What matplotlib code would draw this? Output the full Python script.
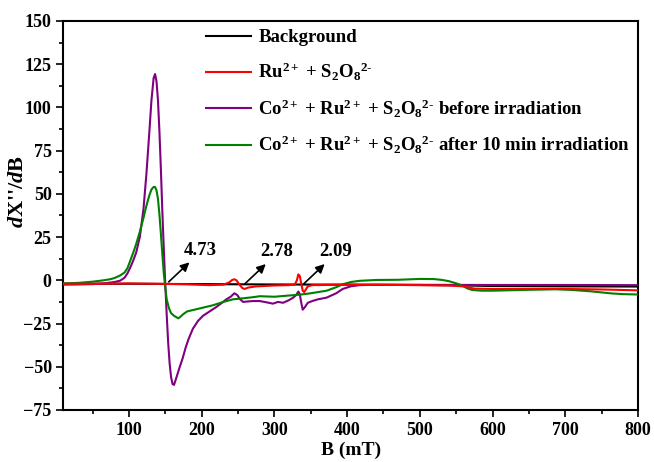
import numpy as np
import matplotlib
matplotlib.use("Agg")
import matplotlib.pyplot as plt
import matplotlib.ticker as ticker

plt.rcParams["font.family"] = "serif"
plt.rcParams["font.serif"] = ["Liberation Serif", "DejaVu Serif"]
plt.rcParams["font.weight"] = "bold"
plt.rcParams["axes.labelweight"] = "bold"
plt.rcParams["mathtext.fontset"] = "custom"
plt.rcParams["mathtext.rm"] = "Liberation Serif:bold"
plt.rcParams["mathtext.it"] = "Liberation Serif:bold:italic"
plt.rcParams["mathtext.bf"] = "Liberation Serif:bold"

# EPR spectra (B in mT)
bg_x = [10, 100, 200, 300, 400, 500, 550, 600, 700, 800]
bg_y = [-2.0, -2.0, -2.2, -2.4, -2.5, -2.7, -2.9, -3.3, -3.5, -3.6]

ru_x = [10, 50, 100, 140, 180, 210, 230, 238, 242, 245, 248, 252, 256, 259, 264, 275,
        300, 320, 328, 331, 333, 335, 337, 339, 341, 343, 346, 352, 400, 450, 500,
        540, 560, 575, 600, 650, 700, 750, 800]
ru_y = [-2.0, -2.0, -1.8, -2.0, -2.3, -2.8, -2.5, -1.2, 0.2, 0.6, 0.0, -2.5, -4.5, -5.0,
        -4.2, -3.5, -3.0, -2.8, -2.5, 0.0, 3.4, 2.5, -2.0, -6.0, -6.8, -5.5, -3.5, -2.8,
        -2.5, -2.6, -2.8, -3.0, -3.5, -4.8, -5.0, -5.0, -5.0, -5.3, -5.8]

before_x = [10, 30, 50, 65, 80, 88, 94, 98, 102, 106, 110, 115, 120, 124, 128, 131, 134,
            136, 138, 140, 142, 144, 146, 148, 150, 152, 154, 156, 158, 160, 162, 164,
            167, 170, 174, 178, 182, 188, 195, 202, 211, 220, 228, 234, 240, 245, 249,
            253, 257, 262, 270, 280, 290, 298, 305, 312, 320, 326, 330, 333, 335, 337,
            339, 342, 346, 352, 360, 372, 385, 394, 405, 417, 440, 500, 600, 700, 800]
before_y = [-2.5, -2.4, -2.2, -1.8, -1.0, -0.2, 1.5, 4.0, 7.5, 11.5, 16, 25, 41, 61, 85,
            104, 117, 119.3, 115, 104, 86, 64, 40, 18, -2, -20, -36, -48, -56, -60,
            -60.5, -58, -54, -50, -45, -39, -34, -28, -23.5, -20.5, -18, -15.5, -13, -11,
            -9.5, -7.5, -8.5, -11, -12.5, -12.3, -12, -12, -12.8, -13.5, -12.5, -13,
            -11.5, -10, -8.5, -6.5, -8, -13, -17, -15.5, -13, -12, -11, -10, -7.5, -5,
            -3.5, -2.8, -2.6, -2.6, -2.7, -2.7, -2.8]

after_x = [10, 30, 50, 65, 74, 80, 88, 94, 98, 102, 106, 110, 115, 120, 124, 128, 131,
           134, 136, 138, 140, 142, 144, 146, 148, 150, 152, 155, 158, 162, 166, 168,
           171, 175, 180, 190, 200, 215, 230, 243, 255, 270, 280, 300, 320, 335, 350,
           372, 385, 394, 405, 417, 440, 470, 500, 520, 531, 540, 548, 554, 560, 566,
           572, 585, 600, 620, 650, 687, 710, 733, 750, 764, 780, 800]
after_y = [-1.8, -1.5, -0.8, 0.0, 0.6, 1.3, 2.8, 4.5, 7.0, 11.5, 16, 21, 28, 36, 43, 49,
           52.5, 54, 54, 52, 47, 38, 27, 15, 4, -4, -11, -16, -19, -20.5, -21.5, -22,
           -21, -19.5, -18, -17, -16, -14.5, -12.5, -11, -10.5, -9.8, -9.2, -9.5, -8.8,
           -8.3, -7.5, -6, -4, -2.3, -1, -0.3, 0.2, 0.3, 0.8, 0.7, 0.2, -0.5, -1.5, -2.3,
           -3.5, -4.8, -5.6, -6, -6, -5.8, -5.5, -5.2, -5.6, -6.3, -7, -7.6, -8, -8.2]

labels = ["Background",
          r"Ru$^{2+}$ + S$_2$O$_8$$^{2\text{-}}$",
          r"Co$^{2+}$ + Ru$^{2+}$ + S$_2$O$_8$$^{2\text{-}}$ before irradiation",
          r"Co$^{2+}$ + Ru$^{2+}$ + S$_2$O$_8$$^{2\text{-}}$ after 10 min irradiation"]
colors = ["black", "#ff0000", "#800080", "#008000"]

# g-value markers: (label, field of arrow tail, value at tail)
g_labels = ["4.73", "2.78", "2.09"]
g_fields = [152, 257, 338]
g_levels = [-2.0, -3.0, -3.0]

fig = plt.figure(figsize=(6.54, 4.62), dpi=100)
ax = fig.add_axes([0.097, 0.1126, 0.8785, 0.842])

series = [(bg_x, bg_y), (ru_x, ru_y), (before_x, before_y), (after_x, after_y)]
zorders = [2, 5, 3, 4]
for (x, y), lab, c, z in zip(series, labels, colors, zorders):
    ax.plot(x, y, color=c, lw=1.5, label=lab, zorder=z)

for lab, bx, by in zip(g_labels, g_fields, g_levels):
    ax.annotate("", xy=(bx + 34, by + 13.5), xytext=(bx, by),
                arrowprops=dict(arrowstyle="-|>", color="black", lw=1.2, mutation_scale=13),
                zorder=6)
    ax.text(bx + 46, by + 19.5, lab, fontsize=13.5, fontweight="bold",
            ha="center", va="center", zorder=6)

ax.set_xlim(10, 800)
ax.set_ylim(-75, 150)
ax.xaxis.set_major_locator(ticker.MultipleLocator(100))
ax.xaxis.set_minor_locator(ticker.MultipleLocator(50))
ax.yaxis.set_major_locator(ticker.MultipleLocator(25))
ax.yaxis.set_minor_locator(ticker.MultipleLocator(12.5))
ax.tick_params(which="both", direction="out", top=False, right=False, labelsize=13)
ax.tick_params(which="major", length=5, width=1.2)
ax.tick_params(which="minor", length=3, width=1.2)
for sp in ax.spines.values():
    sp.set_linewidth(1.5)

ax.set_xlabel("B (mT)", fontsize=14, labelpad=2)
ax.set_ylabel(r"$\mathit{d}$X''/$\mathit{d}$B", fontsize=16)
ax.yaxis.set_label_coords(-0.062, 0.563)

ax.legend(loc="upper left", bbox_to_anchor=(0.225, 1.013), frameon=False, fontsize=13.5,
          handlelength=2.4, handletextpad=0.4, labelspacing=0.78, borderaxespad=0.3)

fig.savefig("out.png", dpi=100)
